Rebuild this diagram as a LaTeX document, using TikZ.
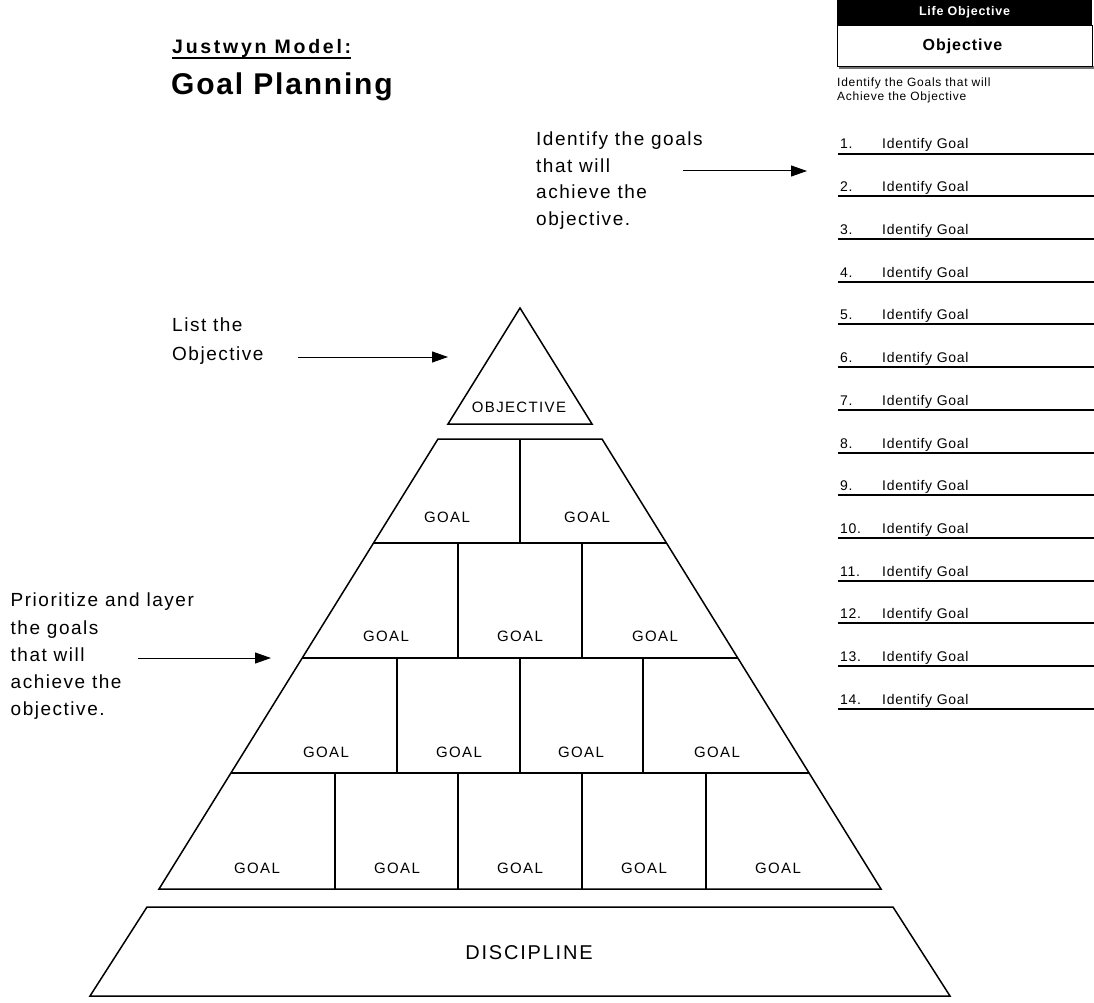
\documentclass[tikz,border=0pt]{standalone}
\usepackage{fontspec}
\setmainfont{Liberation Sans}
\newfontfamily\wide[LetterSpace=8]{Liberation Sans}
\newfontfamily\capsfont[LetterSpace=9]{Liberation Sans}
\newfontfamily\cardfont[LetterSpace=6]{Liberation Sans}
\newfontfamily\listfont[LetterSpace=5]{Liberation Sans}
\newfontfamily\titlefont[LetterSpace=14]{Liberation Sans}
\newfontfamily\bigtitle[LetterSpace=6]{Liberation Sans}
\usetikzlibrary{arrows.meta,calc}

\tikzset{
  edge/.style={line width=1.5pt, line join=miter},
  pointer/.style={line width=1pt, -{Triangle[length=16pt,width=11pt]}},
  goal/.style={inner sep=0pt, font=\capsfont\fontsize{15}{17}\selectfont},
  note/.style={inner sep=0pt, anchor=north west, align=left},
  listnum/.style={inner sep=0pt, anchor=base west, font=\listfont\fontsize{14}{16}\selectfont},
}

\begin{document}
\begin{tikzpicture}[x=1pt,y=-1pt]
\useasboundingbox (0,0) rectangle (1094,1003);

% ---- title ----
\node[inner sep=0pt, anchor=base west, font=\titlefont\bfseries\fontsize{19.5}{22}\selectfont] (ttl) at (172,54) {Justwyn Model:};
\draw[line width=1.4pt] ($(ttl.base west)+(0,4)$) -- ($(ttl.base east)+(0,4)$);
\node[inner sep=0pt, anchor=base west, font=\bigtitle\bfseries\fontsize{30}{32}\selectfont] (sub) at (171,95) {Goal Planning};

% ---- life objective card ----
\fill[black!55] (839,66) rectangle (1094,69);
\fill[black] (837,0) rectangle (1092,25);
\draw[line width=0.8pt, fill=white] (837,25) rectangle (1092,66);
\node[inner sep=0pt, text=white, font=\cardfont\bfseries\fontsize{12.5}{14}\selectfont] (lifehd) at (964.5,12.5) {Life Objective};
\node[inner sep=0pt, font=\cardfont\bfseries\fontsize{16}{18}\selectfont] (lifeobj) at (962.5,46) {Objective};
\node[note, font=\cardfont\fontsize{12}{13.4}\selectfont] (idhead) at (837,78) {Identify the Goals that will\\Achieve the Objective};

% ---- goal list ----
\foreach \i in {1,...,14}{
  \pgfmathsetmacro{\yb}{round(148.7+(\i-1)*42.7)}
  \node[listnum] (num\i) at (840,\yb) {\i.};
  \node[listnum] (item\i) at (882,\yb) {Identify Goal};
  \draw[line width=1.1pt] (838,\yb+5) -- (1094,\yb+5);
}

% ---- side notes ----
\node[note, font=\wide\fontsize{19}{26.5}\selectfont] (noteA) at (536,132) {Identify the goals\\that will\\achieve the\\objective.};
\coordinate (aS) at (683,171);
\coordinate (aE) at (807,171);
\draw[pointer] (aS) -- (aE);

\node[note, font=\wide\fontsize{19}{29}\selectfont] (noteB) at (172,318) {List the\\Objective};
\coordinate (bS) at (298,357);
\coordinate (bE) at (448,357);
\draw[pointer] (bS) -- (bE);

\node[note, font=\wide\fontsize{19}{27.2}\selectfont] (noteC) at (10.5,593) {Prioritize and layer\\the goals\\that will\\achieve the\\objective.};
\coordinate (cS) at (138,658);
\coordinate (cE) at (271,658);
\draw[pointer] (cS) -- (cE);

% ---- pyramid: apex ----
\draw[edge] (520,308) -- (592,424) -- (448,424) -- cycle;
\node[goal] (obj) at (519,407) {OBJECTIVE};

% ---- pyramid: goal layers ----
\draw[edge] (438,439) -- (602,439) -- (881,889) -- (159,889) -- cycle;
\draw[edge] (373.5,543) -- (666.5,543);
\draw[edge] (302.2,658) -- (737.8,658);
\draw[edge] (230.9,773) -- (809.1,773);
% row dividers
\draw[edge] (520,439) -- (520,543);
\foreach \x in {458,582}{\draw[edge] (\x,543) -- (\x,658);}
\foreach \x in {397,520,643}{\draw[edge] (\x,658) -- (\x,773);}
\foreach \x in {335,458,582,706}{\draw[edge] (\x,773) -- (\x,889);}

\node[goal] (g11) at (447,517) {GOAL};
\node[goal] (g12) at (587,517) {GOAL};
\node[goal] (g21) at (386,636) {GOAL};
\node[goal] (g22) at (520,636) {GOAL};
\node[goal] (g23) at (655,636) {GOAL};
\node[goal] (g31) at (326,752) {GOAL};
\node[goal] (g32) at (459,752) {GOAL};
\node[goal] (g33) at (581,752) {GOAL};
\node[goal] (g34) at (717,752) {GOAL};
\node[goal] (g41) at (257,868) {GOAL};
\node[goal] (g42) at (397,868) {GOAL};
\node[goal] (g43) at (520,868) {GOAL};
\node[goal] (g44) at (644,868) {GOAL};
\node[goal] (g45) at (778,868) {GOAL};

% ---- foundation ----
\draw[edge] (147,907) -- (893,907) -- (950,996) -- (90,996) -- cycle;
\node[inner sep=0pt, font=\capsfont\fontsize{20}{22}\selectfont] (disc) at (529,953) {DISCIPLINE};

\end{tikzpicture}
\end{document}
